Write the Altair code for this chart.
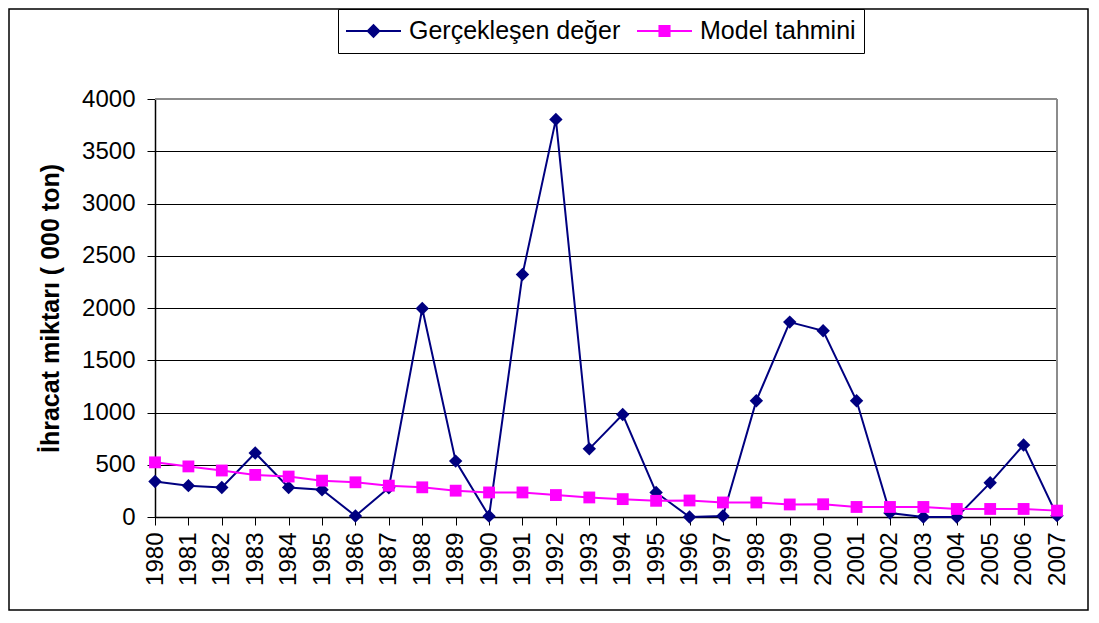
import altair as alt
import pandas as pd

years = ["1980", "1981", "1982", "1983", "1984", "1985", "1986", "1987", "1988", "1989",
         "1990", "1991", "1992", "1993", "1994", "1995", "1996", "1997", "1998", "1999",
         "2000", "2001", "2002", "2003", "2004", "2005", "2006", "2007"]
actual = [340, 300, 282, 613, 282, 260, 10, 280, 1995, 535,
          8, 2320, 3805, 652, 981, 235, 0, 10, 1113, 1865,
          1782, 1112, 38, 0, 0, 327, 689, 13]
model = [523, 484, 445, 403, 387, 348, 332, 300, 284, 252,
         235, 235, 210, 187, 171, 155, 158, 139, 139, 120,
         122, 96, 96, 96, 77, 77, 77, 61]
series_names = ["Gerçekleşen değer", "Model tahmini"]
series_colors = ["#000080", "#FF00FF"]
y_ticks = [0, 500, 1000, 1500, 2000, 2500, 3000, 3500, 4000]

df = pd.DataFrame({
    "year": years * 2,
    "value": actual + model,
    "series": [series_names[0]] * len(years) + [series_names[1]] * len(years),
})

FONT = "Liberation Sans"
W, H = 902, 418

x_enc = alt.X("year:O", scale=alt.Scale(type="point", padding=0),
              axis=alt.Axis(title=None, labelAngle=270, labelAlign="right",
                            labelBaseline="middle", labelFontSize=24, labelColor="black",
                            tickSize=8, tickColor="black", domainColor="black",
                            domainWidth=1.5, labelPadding=7, grid=False))
y_enc = alt.Y("value:Q", scale=alt.Scale(domain=[0, 4000], nice=False),
              axis=alt.Axis(values=y_ticks, format="d", title="İhracat miktarı ( 000 ton)",
                            titleFontSize=25, titleFontWeight="bold", titleColor="black",
                            titleAngle=270, titleX=-105, titleY=H / 2,
                            titleAlign="center", titleBaseline="middle",
                            labelFontSize=24, labelColor="black", labelPadding=12,
                            tickSize=8, tickColor="black", domainColor="black",
                            domainWidth=1.5, grid=True, gridColor="black", gridWidth=1))
color_scale = alt.Scale(domain=series_names, range=series_colors)

diamond_path = "M-1,-0.036H1V0.036H-1Z M0,-0.26L0.26,0L0,0.26L-0.26,0Z"
square_path = "M-1,-0.036H1V0.036H-1Z M-0.22,-0.22H0.22V0.22H-0.22Z"
leg = alt.Legend(title=None, orient="none", legendX=183, legendY=-90, direction="horizontal",
                 columns=2, labelFontSize=25, labelColor="black", labelFont=FONT,
                 labelLimit=400, labelOffset=8, columnPadding=16, padding=8,
                 strokeColor="black", fillColor="white", symbolSize=3025,
                 symbolStrokeWidth=0, symbolOpacity=1, symbolType=diamond_path,
                 clipHeight=28)
color_enc = alt.Color("series:N", scale=color_scale, legend=leg)

base = alt.Chart(df)
layers = []
shapes = ["diamond", "square"]
sizes = [180, 140]
for name, shp, sz in zip(series_names, shapes, sizes):
    sub = base.transform_filter(alt.datum.series == name)
    layers.append(sub.mark_line(strokeWidth=2).encode(x=x_enc, y=y_enc, color=color_enc))
    layers.append(sub.mark_point(filled=True, opacity=1, shape=shp, size=sz).encode(
        x=x_enc, y=y_enc, color=color_enc))

legend_layer = base.transform_filter("false").mark_point(filled=True).encode(
    x=x_enc, y=y_enc,
    color=color_enc,
    shape=alt.Shape("series:N", scale=alt.Scale(domain=series_names,
                                                  range=[diamond_path, square_path]),
                    legend=leg),
)

one = alt.Data(values=[{"b": 1}])
top_rule = alt.Chart(one).mark_rule(color="#8c8c8c", strokeWidth=2).encode(y=alt.datum(4000))
right_rule = alt.Chart(one).mark_rule(color="#8c8c8c", strokeWidth=2).encode(x=alt.datum("2007"))
border = alt.Chart(one).mark_rect(filled=False, stroke="black", strokeWidth=1.5, clip=False).encode(
    x=alt.value(-146), x2=alt.value(933), y=alt.value(-90), y2=alt.value(511))

chart = alt.layer(border, top_rule, right_rule, *layers, legend_layer).properties(
    width=W, height=H,
    autosize=alt.AutoSizeParams(type="none"),
    padding={"left": 147, "top": 91, "right": 32, "bottom": 96},
).configure_view(stroke=None).configure(font=FONT, background="white")

chart.save("out.html", embed_options={"renderer": "svg", "actions": False})
